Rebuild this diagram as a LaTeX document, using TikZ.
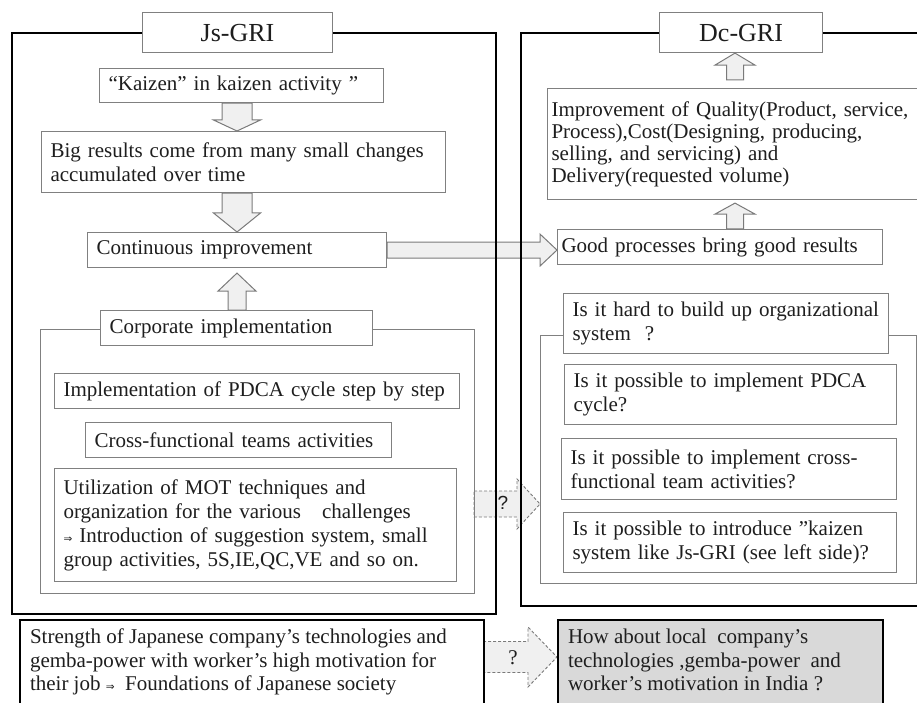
\documentclass[tikz,border=0pt]{standalone}
\usepackage{fontspec}
\setmainfont{Liberation Serif}
\newfontfamily\symfont{DejaVu Sans}
\newfontfamily\qfont{Liberation Sans}
\usetikzlibrary{calc}

\definecolor{boxline}{HTML}{808080}
\definecolor{arrowfill}{HTML}{F0F0F0}
\definecolor{arrowline}{HTML}{7A7A7A}
\definecolor{askfill}{HTML}{D9D9D9}
\definecolor{inkgray}{HTML}{1E1E1E}

\pgfdeclarelayer{arrowlayer}
\pgfdeclarelayer{framelayer}
\pgfsetlayers{arrowlayer,framelayer,main}

% small implication arrow used inside running text
\newcommand\impl{{\symfont\fontsize{10.5}{10.5}\selectfont ⇒}}

% block arrow: #1 style, #2 start, #3 tip, #4 shaft half width,
% #5 head half width, #6 head length
\newcommand\blockarr[6]{%
  \coordinate (baA) at (#2);
  \coordinate (baB) at (#3);
  \coordinate (baH) at ($(baB)!#6!(baA)$);
  \draw[#1] ($(baA)!#4!90:(baB)$) -- ($(baH)!#4!90:(baB)$)
    -- ($(baH)!#5!90:(baB)$) -- (baB) -- ($(baH)!#5!-90:(baB)$)
    -- ($(baH)!#4!-90:(baB)$) -- ($(baA)!#4!-90:(baB)$) -- cycle;
}

\begin{document}
\begin{tikzpicture}[x=1pt,y=-1pt,
  font=\fontsize{21}{24}\selectfont,
  tbox/.style={draw=boxline, line width=1.1pt, fill=white, anchor=north west,
    align=left, inner xsep=9pt, inner ysep=0pt, text=inkgray},
  ttl/.style={draw=boxline, line width=1.1pt, fill=white, anchor=north west,
    align=center, inner sep=0pt, text=inkgray, font=\fontsize{26}{28}\selectfont},
  frame/.style={draw=black, line width=2pt},
  subframe/.style={draw=boxline, line width=1.1pt, anchor=north west, inner sep=0pt},
  blk/.style={fill=arrowfill, draw=arrowline, line width=1pt, line join=miter},
  askarrow/.style={fill=arrowfill, draw=arrowline, line width=0.9pt,
    dash pattern=on 3pt off 2pt},
  strong/.style={draw=black, line width=2pt, anchor=north west, inner xsep=10pt,
    inner ysep=9pt, text=inkgray}
]
\useasboundingbox (0,0) rectangle (917,703);

% ---------- outer frames ----------
\begin{pgfonlayer}{framelayer}
  \draw[frame] (12,33) rectangle (496,614);
  \draw[frame] (930,33) -| (521,606) -- (930,606);
  \node[subframe, minimum width=434, minimum height=264] (corpbox) at (40,329) {};
  \node[subframe, minimum width=376, minimum height=248] (rinbox) at (540,335) {};
\end{pgfonlayer}

% ---------- left column ----------
\node[ttl, minimum width=190, minimum height=40] (js) at (142,12) {Js-GRI};
\node[tbox, text width=266, minimum height=34] (kaizen) at (99,68)
  {“Kaizen” in kaizen activity ”};
\node[tbox, text width=386, minimum height=61] (big) at (41,131)
  {Big results come from many small changes\\accumulated over time};
\node[tbox, text width=281, minimum height=35] (cont) at (87,232)
  {Continuous improvement};
\node[tbox, text width=254, minimum height=35] (corp) at (100,310)
  {Corporate implementation};
\node[tbox, text width=387, minimum height=35] (pdca) at (54,373)
  {Implementation of PDCA cycle step by step};
\node[tbox, text width=288, minimum height=35] (cross) at (85,422)
  {Cross-functional teams activities};
\node[tbox, text width=384, minimum height=113] (util) at (54,468)
  {Utilization of MOT techniques and\\organization for the various \ \ challenges\\%
   \impl\ Introduction of suggestion system, small\\group activities, 5S,IE,QC,VE and so on.};

% ---------- right column ----------
\node[ttl, minimum width=163, minimum height=40] (dc) at (659,12) {Dc-GRI};
\node[tbox, inner xsep=4pt, text width=365, minimum height=111,
  font=\fontsize{21}{22}\selectfont] (imp) at (547,88)
  {Improvement of Quality(Product, service,\\Process),Cost(Designing, producing,\\%
   selling, and servicing) and\\Delivery(requested volume)};
\node[tbox, inner xsep=4pt, text width=317, minimum height=35] (good) at (557,229)
  {Good processes bring good results};
\node[tbox, text width=307, minimum height=60] (hard) at (563,293)
  {Is it hard to build up organizational\\system \ ?};
\node[tbox, text width=314, minimum height=60] (qa) at (564,364)
  {Is it possible to implement PDCA\\cycle?};
\node[tbox, text width=317, minimum height=61] (qb) at (561,438)
  {Is it possible to implement cross-\\functional team activities?};
\node[tbox, text width=315, minimum height=60] (qc) at (563,512)
  {Is it possible to introduce ”kaizen\\system like Js-GRI (see left side)?};

% ---------- bottom row ----------
\node[strong, fill=white] (strength) at (19,619)
  {\begin{minipage}[t][96pt][t]{444pt}\fontsize{21}{23.5}\selectfont\raggedright
   Strength of Japanese company’s technologies and\\gemba-power with worker’s high motivation for\\%
   their job \impl\ \ Foundations of Japanese society\end{minipage}};
\node[strong, fill=askfill] (howabout) at (557,619)
  {\begin{minipage}[t][96pt][t]{305pt}\fontsize{21}{23.5}\selectfont\raggedright
   How about local \ company’s\\technologies ,gemba-power \ and\\%
   worker’s motivation in India ?\end{minipage}};

% ---------- question marks on the dashed arrows ----------
\node[font=\qfont\fontsize{19}{19}\selectfont, text=inkgray] (askmid) at (503,503) {?};
\node[font=\fontsize{21}{21}\selectfont, text=inkgray] (askbot) at (513,658) {?};

% ---------- block arrows ----------
\begin{pgfonlayer}{arrowlayer}
  \coordinate (colL) at (237,0);
  \coordinate (colR) at (735,0);
  \coordinate (contbot) at ([yshift=-5pt]cont.south);
  \coordinate (imptop) at ([yshift=8pt]imp.north);
  \coordinate (impbot) at ([yshift=-3pt]imp.south);
  \blockarr{blk}{kaizen.south -| colL}{big.north -| colL}{15pt}{23.5pt}{11pt}
  \blockarr{blk}{big.south -| colL}{cont.north -| colL}{15pt}{23.5pt}{19pt}
  \blockarr{blk}{corp.north -| colL}{contbot -| colL}{9pt}{19pt}{18pt}
  \blockarr{blk}{cont.east}{cont.east -| good.west}{8pt}{16pt}{17pt}
  \blockarr{blk}{good.north -| colR}{impbot -| colR}{8.5pt}{20pt}{11pt}
  \blockarr{blk}{imptop -| colR}{dc.south -| colR}{8.5pt}{20pt}{12pt}
  \coordinate (askA) at (474,504);
  \blockarr{askarrow}{askA}{askA -| rinbox.west}{13pt}{25pt}{23pt}
  \coordinate (askB) at (483,657);
  \blockarr{askarrow}{askB}{askB -| howabout.west}{15.5pt}{30pt}{29pt}
\end{pgfonlayer}
\end{tikzpicture}
\end{document}
